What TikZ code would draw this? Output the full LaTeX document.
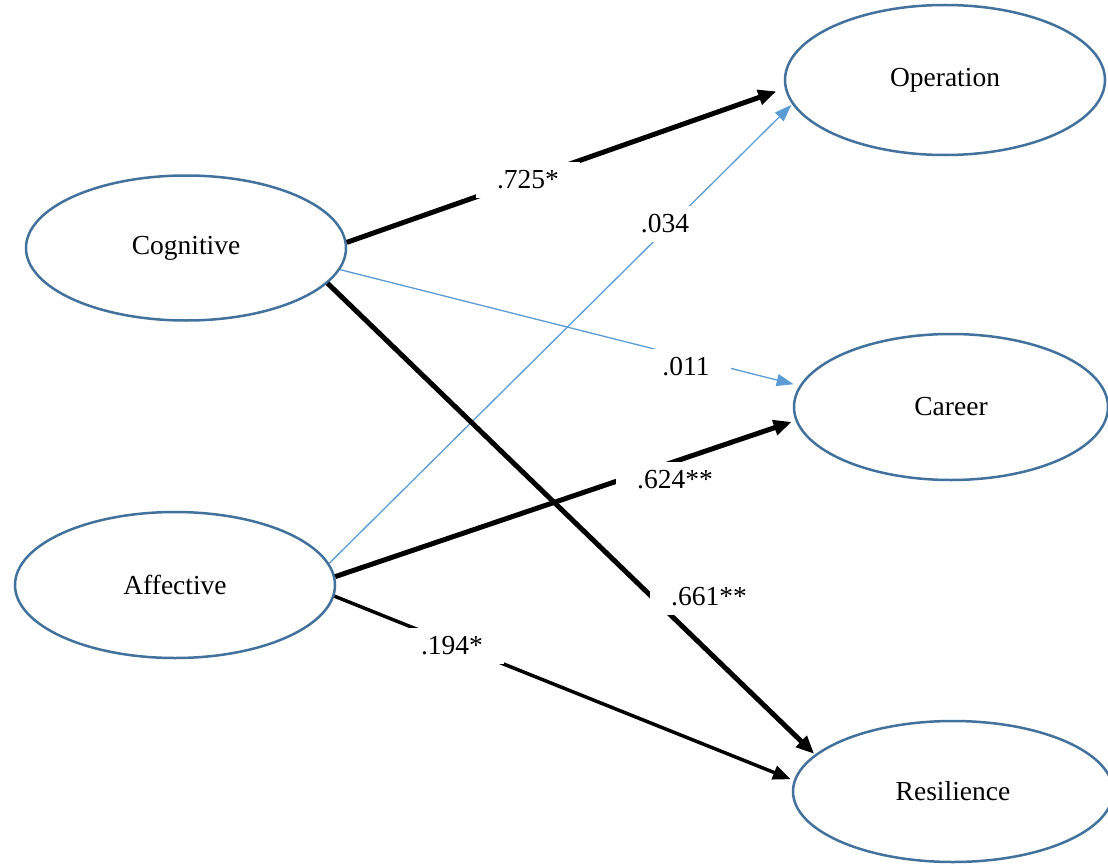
\documentclass[tikz,border=0pt]{standalone}
\usepackage{fontspec}
\setmainfont{Liberation Serif}
\usetikzlibrary{shapes.geometric,arrows.meta}
\definecolor{ellline}{HTML}{41719C}
\definecolor{thinblue}{HTML}{5B9BD5}
\begin{document}
\begin{tikzpicture}[x=1pt,y=-1pt,
  font=\fontsize{27.5}{33}\selectfont,
  latent/.style={ellipse,draw=ellline,line width=2.5pt,inner sep=0pt,minimum width=320pt,minimum height=146pt},
  strong/.style={line width=5pt,-{Triangle[length=18pt,width=15pt]}},
  medium/.style={line width=3.5pt,-{Triangle[length=18pt,width=14pt]}},
  weak/.style={thinblue,line width=1.3pt,-{Triangle[length=17pt,width=12pt]}},
  coef/.style={fill=white,inner xsep=21pt,inner ysep=9pt}]
\useasboundingbox (0,0) rectangle (1108,864);
\clip (0,0) rectangle (1108,864);
\node[latent,minimum height=150pt] (op) at (945,80) {Operation};
\node[latent,minimum height=145pt] (cog) at (186,248) {Cognitive};
\node[latent,minimum width=314pt] (car) at (951,407) {Career};
\node[latent] (aff) at (175,585) {Affective};
\node[latent,minimum height=141pt] (res) at (953,791.5) {Resilience};
% weak paths
\draw[weak,shorten >=1pt] (aff.8.4) -- (op.189);
\draw[weak,shorten >=6pt] (cog.352.7) -- (car.172.5);
% strong paths
\draw[strong,shorten >=9pt] (cog.2.5) -- (op.183);
\draw[strong,shorten >=4pt] (aff.3) -- (car.185);
\draw[strong,shorten >=1pt] (cog.346.7) -- (res.165.8);
\draw[medium,shorten >=3pt] (aff.356.4) -- (res.176.5);
% coefficients
\node[coef] (l1) at (528,180) {.725*};
\node[coef] (l2) at (665,224) {.034};
\node[coef] (l3) at (686,367) {.011};
\node[coef] (l4) at (675,480) {.624**};
\node[coef] (l5) at (709,597) {.661**};
\node[coef] (l6) at (452,646) {.194*};
\end{tikzpicture}
\end{document}
